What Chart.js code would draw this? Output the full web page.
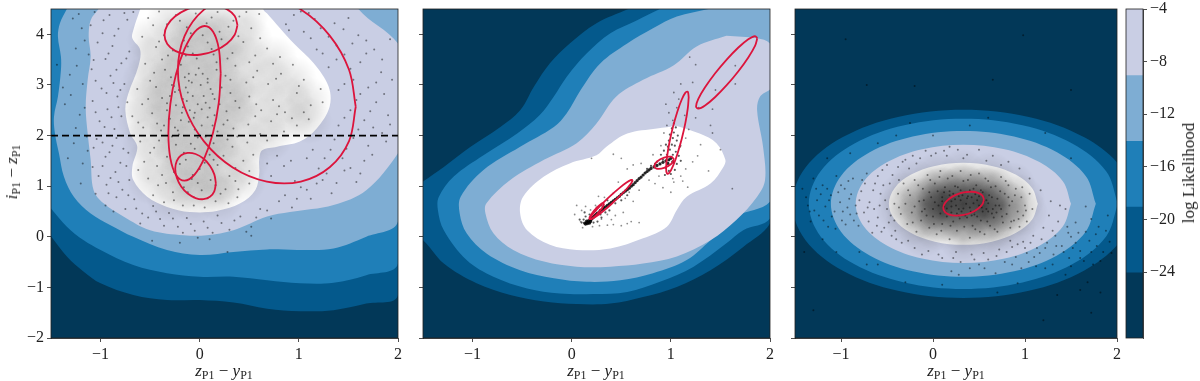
<!DOCTYPE html>
<html>
<head>
<meta charset="UTF-8">
<title>log Likelihood panels</title>
<script src="https://cdn.jsdelivr.net/npm/chart.js@4"></script>
<style>
    html, body { margin: 0; padding: 0; background: #fff; }
    body { width: 1200px; height: 381px; position: relative; overflow: hidden; font-family: "Liberation Serif", serif; color: #222; }
    canvas { position: absolute; top: 0; }
    .lab { position: absolute; font-size: 17px; white-space: nowrap; transform: translate(-50%, -50%); }
    .lab.rot { transform: translate(-50%, -50%) rotate(-90deg); }
    .lab sub { font-size: 12px; vertical-align: -3px; line-height: 0; }
</style>
</head>
<body>
<canvas id="c1" style="left:0" width="405" height="381"></canvas>
<canvas id="c2" style="left:403px" width="375" height="381"></canvas>
<canvas id="c3" style="left:775px" width="350" height="381"></canvas>
<canvas id="cbar" style="left:1120px" width="80" height="381"></canvas>
<div class="lab" style="left:224px;top:371px"><i>z</i><sub>P1</sub> − <i>y</i><sub>P1</sub></div>
<div class="lab" style="left:596px;top:371px"><i>z</i><sub>P1</sub> − <i>y</i><sub>P1</sub></div>
<div class="lab" style="left:956px;top:371px"><i>z</i><sub>P1</sub> − <i>y</i><sub>P1</sub></div>
<div class="lab rot" style="left:12px;top:172px"><i>i</i><sub>P1</sub> − <i>z</i><sub>P1</sub></div>
<div class="lab rot" style="left:1189px;top:173px">log Likelihood</div>

<script>
// axis ticks
const xTicks = [-1, 0, 1, 2];
const yTicks = [-2, -1, 0, 1, 2, 3, 4];
const barTicks = [-4, -8, -12, -16, -20, -24];
const barBands = [[-9, -4], [-14, -9], [-19, -14], [-24, -19], [-29, -24]];
const bandColors = ['#c9cee4', '#7eadd3', '#1f7fb8', '#04598c'];
const darkest = '#023858';

// filled contours, outermost first
const left1 = [
    [[-1.5,.01],[-1.34,-.39],[-1.17,-.69],[-1,-.92],[-.67,-1.15],[-.33,-1.25],[0,-1.25],[.34,-1.3],[.68,-1.42],[1.01,-1.47],[1.35,-1.45],[1.68,-1.32],[2,-1.15],[2.4,5],[-1.9,5]],
    [[-1.5,.56],[-1.34,.2],[-1.17,-.07],[-1,-.26],[-.67,-.56],[-.33,-.72],[0,-.79],[.34,-.79],[.68,-.86],[1.01,-.92],[1.35,-.91],[1.68,-.76],[2,-.53],[2.4,5],[-1.9,5]],
    [[-1.34,4.5],[-1.41,4.22],[-1.43,3.95],[-1.4,3.56],[-1.4,3.29],[-1.43,2.77],[-1.47,2.37],[-1.46,2.04],[-1.42,1.65],[-1.37,1.19],[-1.27,.79],[-1.1,.46],[-.9,.23],[-.67,0],[-.33,-.26],[0,-.36],[.34,-.3],[.68,-.25],[1.01,-.26],[1.35,-.23],[1.68,0],[2,.3],[2.4,5],[-1.34,5]],
    [[-1.02,4.5],[-1.1,4.28],[-1.12,3.95],[-1.1,3.56],[-1.13,3.1],[-1.15,2.57],[-1.13,2.04],[-1.1,1.52],[-1.07,.92],[-.97,.66],[-.77,.4],[-.5,.13],[-.16,.03],[.07,.03],[.34,.13],[.68,.4],[.91,.49],[1.35,.63],[1.68,.92],[2,1.65],[2.3,2.7],[2,3.82],[1.6,4.5],[1.5,5],[-1.02,5]],
];
const white1 = [[-.6,4.5],[-.67,4.08],[-.68,3.92],[-.6,3.69],[-.62,3.36],[-.72,2.83],[-.75,2.5],[-.7,2.04],[-.63,1.78],[-.68,1.38],[-.67,1.12],[-.53,.79],[-.33,.59],[-.1,.49],[.17,.51],[.41,.66],[.56,.92],[.6,1.25],[.6,1.52],[.63,1.71],[.78,1.78],[1.01,1.88],[1.18,2.14],[1.31,2.57],[1.3,2.97],[1.15,3.43],[.95,3.82],[.81,4.12],[.68,4.41],[.64,4.5],[.64,5],[-.6,5]];

const left2 = [
    [[.57,4.5],[.25,4.22],[-.02,3.82],[-.22,3.43],[-.38,2.97],[-.52,2.5],[-.72,2.17],[-1.02,1.78],[-1.29,1.38],[-1.5,1.09],[-1.9,.5],[-1.5,-.07],[-1.29,-.53],[-.96,-.92],[-.62,-1.15],[-.28,-1.28],[.05,-1.33],[.39,-1.32],[.72,-1.19],[1.06,-.99],[1.4,-.66],[1.73,-.2],[2,.26],[2.4,2],[2.4,5],[.57,5]],
    [[.89,4.5],[.66,4.28],[.39,4.02],[.15,3.62],[-.05,3.16],[-.18,2.77],[-.32,2.41],[-.55,2.04],[-.89,1.61],[-1.19,1.19],[-1.34,.79],[-1.35,.53],[-1.29,.13],[-1.06,-.46],[-.79,-.79],[-.45,-1.02],[-.12,-1.12],[.22,-1.13],[.56,-1.09],[.89,-.89],[1.23,-.59],[1.56,-.13],[1.73,.13],[2,.36],[2.4,2],[2.4,5],[.89,5]],
    [[1.38,4.5],[1.06,4.35],[.82,4.12],[.56,3.82],[.29,3.43],[.09,2.9],[-.05,2.44],[-.18,2.17],[-.52,1.78],[-.89,1.32],[-1.12,.79],[-1.13,.46],[-1.06,.07],[-.86,-.33],[-.52,-.66],[-.18,-.82],[.15,-.89],[.49,-.86],[.82,-.72],[1.16,-.46],[1.4,-.07],[1.66,.4],[2,.69],[2.4,2],[2.4,5],[1.38,5]],
    [[1.56,3.97],[1.26,3.76],[1.03,3.39],[.72,3.1],[.45,2.77],[.25,2.24],[.05,1.85],[-.28,1.52],[-.62,1.12],[-.86,.66],[-.87,.46],[-.79,.07],[-.59,-.26],[-.28,-.49],[.05,-.59],[.39,-.59],[.72,-.53],[1.06,-.39],[1.4,-.07],[1.66,.33],[1.87,.79],[1.95,1.12],[1.93,1.78],[1.87,2.5],[1.9,2.77],[2,2.91],[2.2,3.3],[2,3.82],[1.87,3.92]],
];
const white2 = [[1.06,2.19],[.86,2.14],[.56,2.04],[.35,1.78],[.25,1.61],[-.02,1.45],[-.28,1.19],[-.49,.79],[-.52,.46],[-.45,.13],[-.22,-.16],[.05,-.26],[.39,-.23],[.72,-.03],[.96,.2],[1.06,.53],[1.16,.79],[1.4,1.05],[1.53,1.38],[1.55,1.52],[1.46,1.85],[1.29,2.04]];

const left3 = [
    [[2.19,.65],[2.048,1.362],[1.645,1.965],[1.042,2.368],[.33,2.51],[-.382,2.368],[-.985,1.965],[-1.388,1.362],[-1.53,.65],[-1.388,-.062],[-.985,-.665],[-.382,-1.068],[.33,-1.21],[1.042,-1.068],[1.645,-.665],[2.048,-.062]],
    [[2.01,.65],[1.882,1.293],[1.518,1.838],[.973,2.202],[.33,2.33],[-.313,2.202],[-.858,1.838],[-1.222,1.293],[-1.35,.65],[-1.222,.007],[-.858,-.538],[-.313,-.902],[.33,-1.03],[.973,-.902],[1.518,-.538],[1.882,.007]],
    [[1.77,.65],[1.66,1.201],[1.348,1.668],[.881,1.98],[.33,2.09],[-.221,1.98],[-.688,1.668],[-1,1.201],[-1.11,.65],[-1,.099],[-.688,-.368],[-.221,-.68],[.33,-.79],[.881,-.68],[1.348,-.368],[1.66,.099]],
    [[1.5,.65],[1.411,1.098],[1.157,1.477],[.778,1.731],[.33,1.82],[-.118,1.731],[-.497,1.477],[-.751,1.098],[-.84,.65],[-.751,.202],[-.497,-.177],[-.118,-.431],[.33,-.52],[.778,-.431],[1.157,-.177],[1.411,.202]],
];
const white3 = [[1.14,.65],[1.078,.96],[.903,1.223],[.64,1.398],[.33,1.46],[.02,1.398],[-.243,1.223],[-.418,.96],[-.48,.65],[-.418,.34],[-.243,.077],[.02,-.098],[.33,-.16],[.64,-.098],[.903,.077],[1.078,.34]];

// red outlines
const red1 = [
    [[1.574,2.568],[1.506,3.3],[1.311,3.975],[1.02,4.49],[.677,4.77],[.333,4.769],[.043,4.487],[-.152,3.969],[-.22,3.292],[-.152,2.559],[.043,1.885],[.333,1.369],[.677,1.09],[1.02,1.091],[1.311,1.373],[1.506,1.891]],
    [[.212,3.229],[.192,3.723],[.135,4.051],[.049,4.164],[-.052,4.044],[-.153,3.71],[-.239,3.213],[-.296,2.627],[-.316,2.043],[-.296,1.549],[-.239,1.221],[-.153,1.108],[-.052,1.228],[.049,1.562],[.135,2.059],[.192,2.645]],
    [[.381,4.184],[.353,4.361],[.273,4.497],[.154,4.57],[.013,4.569],[-.128,4.494],[-.247,4.357],[-.327,4.179],[-.355,3.986],[-.327,3.809],[-.247,3.673],[-.128,3.6],[.013,3.601],[.154,3.676],[.273,3.813],[.353,3.991]],
    [[.163,1.055],[.147,1.233],[.103,1.405],[.037,1.546],[-.042,1.635],[-.121,1.658],[-.187,1.611],[-.231,1.501],[-.247,1.345],[-.231,1.167],[-.187,.995],[-.121,.854],[-.042,.765],[.037,.742],[.103,.789],[.147,.899]],
];
const red2 = [
    [[1.872,3.92],[1.849,3.966],[1.781,3.902],[1.681,3.739],[1.563,3.501],[1.445,3.225],[1.345,2.952],[1.277,2.724],[1.254,2.576],[1.277,2.53],[1.345,2.594],[1.445,2.757],[1.563,2.995],[1.681,3.271],[1.781,3.544],[1.849,3.772]],
    [[1.18,2.756],[1.171,2.864],[1.147,2.848],[1.11,2.712],[1.066,2.476],[1.022,2.176],[.985,1.858],[.961,1.57],[.952,1.356],[.961,1.248],[.985,1.264],[1.022,1.4],[1.066,1.636],[1.11,1.936],[1.147,2.254],[1.171,2.542]],
    [[1.032,1.529],[1.003,1.582],[.932,1.565],[.861,1.488],[.832,1.397],[.861,1.344],[.932,1.361],[1.003,1.438]],
    [[.616,1.12],[.6,1.125],[.553,1.072],[.483,.967],[.401,.828],[.319,.675],[.249,.532],[.202,.419],[.186,.356],[.202,.351],[.249,.404],[.319,.509],[.401,.648],[.483,.801],[.553,.944],[.6,1.057]],
    [[.328,.658],[.306,.664],[.253,.574],[.2,.45],[.178,.358],[.2,.352],[.253,.442],[.306,.566]],
];
const red3 = [
    [[.554,.735],[.537,.814],[.489,.868],[.418,.889],[.333,.875],[.248,.827],[.177,.752],[.129,.662],[.112,.571],[.129,.492],[.177,.438],[.248,.417],[.333,.431],[.418,.479],[.489,.554],[.537,.644]],
];
const cutLine = [[-1.5, 2], [2, 2]];

// tone of the densest areas (each entry stands for a crowd of points)
const haze1 = [[-.3,4.3],[-.05,4.3],[.2,4.3],[.45,4.3],[-.5,3.9],[-.25,3.9],[0,3.9],[.25,3.9],[.5,3.9],[-.5,3.5],[-.25,3.5],[0,3.5],[.25,3.5],[.5,3.5],[.75,3.5],[-.55,3.1],[-.3,3.1],[-.05,3.1],[.2,3.1],[.45,3.1],[.7,3.1],[.95,3.1],[-.6,2.7],[-.35,2.7],[-.1,2.7],[.15,2.7],[.4,2.7],[.65,2.7],[.9,2.7],[1.1,2.7],[-.6,2.3],[-.35,2.3],[-.1,2.3],[.15,2.3],[.4,2.3],[.65,2.3],[.9,2.3],[1.1,2.3],[-.55,1.9],[-.3,1.9],[-.05,1.9],[.2,1.9],[.45,1.9],[.7,1.95],[-.5,1.5],[-.25,1.5],[0,1.5],[.25,1.5],[.47,1.5],[-.5,1.1],[-.25,1.1],[0,1.1],[.25,1.1],[.43,1.1],[-.3,.75],[-.05,.72],[.2,.75]];
const hazeCore1 = [[-.1,4.1],[.15,4.1],[-.2,3.7],[.05,3.7],[.3,3.7],[-.3,3.3],[-.05,3.3],[.2,3.3],[-.4,2.9],[-.15,2.9],[.1,2.9],[.35,2.9],[-.4,2.5],[-.15,2.5],[.1,2.5],[.35,2.5],[-.3,2.1],[-.05,2.1],[.2,2.1],[-.25,1.7],[0,1.7],[.2,1.7],[-.2,1.3],[.05,1.3],[-.1,.95],[.15,.95]];
const hazeCore3 = [[.33,.65],[.1,.62],[.55,.62],[.33,.9],[.33,.4],[.1,.85],[.56,.85],[.1,.42],[.56,.42],[-.08,.65],[.75,.62]];
const haze3 = [[.33,1.25],[.05,1.2],[.62,1.2],[-.2,1.05],[.33,1],[.85,1],[-.32,.8],[.05,.95],[.62,.95],[.95,.75],[-.35,.55],[-.12,.45],[.8,.4],[.98,.5],[-.25,.3],[.05,.2],[.33,.15],[.62,.2],[.85,.2],[-.1,.08],[.33,-.05],[.62,0]];

// scatter dots
const dots1 = [
[-1.28,4.31],[-1.19,4.12],[-1.06,4.44],[-.98,4.02],[-.91,4.38],[-.82,4.11],[-.73,4.29],[-1.25,3.72],[-1.12,3.6],[-1.03,3.84],[-.95,3.51],[-.88,3.77],[-.79,3.43],[-.71,3.66],[-1.31,3.2],[-1.18,3.02],[-1.09,3.31],[-.99,2.93],[-.9,3.18],[-.83,2.77],[-.76,3.02],[-1.36,2.62],[-1.21,2.41],[-1.08,2.68],[-1.01,2.28],[-.93,2.52],[-.86,2.13],[-.79,2.38],[-1.27,1.85],[-1.13,1.7],[-1.04,1.93],[-.95,1.58],[-.88,1.8],[-.8,1.46],[-.72,1.66],[-1.02,1.2],[-.94,1.03],[-.85,1.28],[-.78,.93],[-.71,1.12],[-.95,.62],[-.84,.78],[-.75,.55],[-.66,.74],[-.58,.46],[-.47,.61],[-.4,.35],[-.31,.47],[-.22,.2],[-.13,.37],[-.05,.12],[.04,.3],[.13,.08],[.22,.27],[.3,.14],[.41,.4],[.52,.2],[.61,.55],[.72,.36],[.8,.7],[.93,.58],[1.02,.98],[1.12,.75],[1.24,1.12],[1.33,.86],[1.46,1.31],[1.58,1.08],[1.66,1.5],[.72,1.2],[.85,1.4],[.96,1.1],[1.08,1.55],[1.2,1.35],[1.32,1.72],[1.44,1.55],[1.55,1.95],[1.7,1.8],[1.84,2.05],[1.4,2.2],[1.52,2.5],[1.66,2.3],[1.78,2.66],[1.9,2.4],[1.4,2.9],[1.55,3.1],[1.7,2.95],[1.83,3.25],[1.3,3.35],[1.46,3.6],[1.62,3.45],[1.76,3.7],[1.92,3.9],[1.18,3.7],[1.3,3.95],[1.45,4.1],[1.6,3.98],[1.05,4.05],[1.16,4.3],[.95,4.38],[.87,4.2],[-.48,-.08],[-.2,-.12],[.1,-.05],[.28,-.3],[.52,.02],[1.02,4.45],[-1.38,2.95],[-1.44,3.4],[-1.33,1.55],[-1.2,1.05],[-.6,.26],[-.02,-.02],
[-1.22,4.4],[-1.1,4.18],[-.97,4.28],[-.86,3.97],[-.76,4.42],[-.67,4.44],[-1.16,3.88],[-1.07,3.49],[-.92,3.62],[-.84,3.3],[-.74,3.52],[-1.24,3.38],[-1.05,3.08],[-.94,2.84],[-.87,3.04],[-.8,2.9],[-.73,2.66],[-1.3,2.8],[-1.16,2.55],[-1.05,2.46],[-.96,2.17],[-.89,2.36],[-.82,2.56],[-1.25,2.15],[-1.14,1.98],[-1.07,1.76],[-.98,1.86],[-.91,1.67],[-.84,1.95],[-.77,1.74],[-1.18,1.45],[-1.08,1.38],[-.98,1.4],[-.9,1.16],[-.82,1.08],[-.74,1.4],[-1.05,.85],[-.92,.86],[-.87,.5],[-.72,.82],[-.64,.56],[-.52,.38],[-.44,.5],[-.36,.22],[-.27,.36],[-.17,.08],[-.09,.25],[.08,.18],[.18,.42],[.35,.32],[.47,.1],[.57,.38],[.68,.52],[.86,.82],[.98,.75],[1.08,.93],[1.18,1.05],[1.28,1.25],[1.38,1.06],[1.52,1.36],[1.62,1.25],[1.74,1.62],[1.88,1.88],[.68,1.45],[.78,1.6],[.92,1.5],[1.14,1.72],[1.26,1.55],[1.36,1.92],[1.48,1.74],[1.6,2.12],[1.75,2.16],[1.92,2.22],[1.46,2.35],[1.58,2.7],[1.72,2.48],[1.86,2.82],[1.46,3.02],[1.62,2.82],[1.78,3.05],[1.94,3.1],[1.38,3.5],[1.52,3.32],[1.68,3.62],[1.84,3.5],[1.24,3.62],[1.38,3.78],[1.54,3.82],[1.68,3.88],[1.12,3.92],[1.22,4.12],[1.36,4.22],[1.5,4.32],[1.1,4.42],[.9,4.08],
[-.52,4.32],[-.41,4.45],[-.33,4.2],[-.24,4.38],[-.13,4.14],[-.04,4.41],[.07,4.22],[.18,4.44],[.29,4.15],[.4,4.35],[.52,4.12],[.6,4.4],[-.58,3.95],[-.44,3.75],[-.36,3.98],[-.27,3.68],[-.16,3.88],[-.07,3.62],[.03,3.98],[.12,3.71],[.22,3.9],[.33,3.63],[.44,3.85],[.56,3.58],[.68,3.72],[.81,3.55],[-.55,3.42],[-.46,3.24],[-.38,3.5],[-.29,3.15],[-.19,3.4],[-.11,3.08],[-.01,3.33],[.08,3.05],[.17,3.45],[.26,3.18],[.36,3.38],[.47,3.05],[.58,3.28],[.69,3.02],[.82,3.22],[.94,3.4],[1.05,3.1],[-.63,2.92],[-.52,2.72],[-.44,2.96],[-.33,2.64],[-.25,2.86],[-.17,2.56],[-.07,2.78],[.02,2.52],[.11,2.92],[.2,2.62],[.31,2.84],[.4,2.55],[.5,2.77],[.62,2.5],[.74,2.7],[.86,2.46],[.98,2.84],[1.12,2.6],[1.22,2.92],[-.68,2.38],[-.57,2.16],[-.48,2.44],[-.39,2.1],[-.3,2.33],[-.21,2.02],[-.11,2.27],[-.02,1.96],[.08,2.36],[.18,2.08],[.28,2.3],[.38,1.98],[.49,2.22],[.61,2.03],[.72,2.28],[.85,2.08],[.98,2.2],[1.1,2.32],[-.6,1.88],[-.5,1.66],[-.41,1.9],[-.33,1.58],[-.24,1.82],[-.14,1.52],[-.05,1.74],[.05,1.46],[.14,1.85],[.24,1.6],[.33,1.78],[.44,1.5],[.54,1.62],[-.62,1.32],[-.52,1.15],[-.43,1.4],[-.34,1.06],[-.26,1.28],[-.16,.98],[-.07,1.22],[.02,.92],[.11,1.12],[.21,.85],[.3,1.2],[.39,.94],[.5,1.05],[-.47,.82],[-.36,.68],[-.27,.88],[-.17,.62],[-.06,.78],[.05,.58],[.16,.7],[.29,.66],[.38,.78],
[-.12,2.85],[-.17,2.72],[-.14,2.95],[-.08,3.05],[-.02,2.62],[.04,2.78],[-.21,2.9],[-.1,2.5],[.08,3.12],[-.28,3.0],[-.04,3.2],[.15,2.4],[.02,2.2],[-.19,2.3],[-.33,2.5],[.1,2.55],[.22,2.95],[-.24,2.6],[-.06,2.35],[.17,3.3],
[-.47,4.18],[-.2,4.27],[.12,4.33],[.34,4.27],[.47,4.44],[-.09,4.02],[.2,4.05],[-.41,3.86],[-.12,3.76],[.08,3.84],[.39,3.96],[.61,3.92],[-.32,3.58],[-.03,3.52],[.28,3.52],[.5,3.45],[.74,3.42],[-.5,3.08],[-.23,3.22],[.03,3.22],[.31,3.1],[.54,3.15],[.77,3.12],[1.0,2.98],[-.58,2.62],[-.38,2.74],[-.13,2.68],[.15,2.72],[.36,2.68],[.57,2.62],[.8,2.58],[1.05,2.46],[1.24,2.66],[-.62,2.26],[-.43,2.24],[-.25,2.16],[-.05,2.12],[.13,2.2],[.34,2.14],[.56,2.38],[.78,2.42],[.93,2.34],[-.46,1.76],[-.28,1.98],[-.09,1.84],[.1,1.62],[.28,1.92],[.48,1.86],[.68,1.9],[-.56,1.48],[-.38,1.22],[-.2,1.44],[0,1.34],[.18,1.42],[.36,1.36],[.5,1.3],[-.42,1.02],[-.22,1.14],[-.02,1.06],[.16,1.02],[.36,1.1],[-.12,.88],[.08,.76],[.26,.94],[-.26,.72],[-.06,.62],
[-.15,3.15],[-.26,2.98],[.01,3.0],[-.05,2.45],[.06,2.65],[-.18,2.45],[-.3,2.78],[-.11,3.22],[.13,2.82],[.27,2.48],[-.22,2.1],[.06,1.98],[-.35,3.3],[-.14,3.58],[.14,3.6],[-.36,2.2],[.24,2.22],[-.16,1.66],[.14,1.52],[-.08,1.14],
];
const dots2 = [
[.03,.44],[.1,.52],[.14,.6],[.19,.53],[.05,.62],[.24,.62],[.09,.3],[.11,.18],[.21,.2],[.28,.22],[.36,.23],[.42,.24],[.5,.22],[.56,.26],[.4,.34],[.36,.44],[.44,.42],[.52,.48],[.6,.3],[.68,.28],[.3,.35],[.25,.58],[.33,.78],[.27,.8],[.42,.86],[.54,.76],[.62,.7],[.58,.88],[.47,1.08],[.68,.92],[.56,1.34],[.62,1.42],[.5,1.55],[.42,1.63],[.2,1.55],[.78,1.12],[.84,1.05],[.92,.97],[1,.88],[.88,1.2],[1.03,1.08],[1.1,1.2],[1.15,1.34],[1.22,1.48],[1.27,1.6],[1.3,1.82],[1.42,2.05],[1.5,1.72],[1.38,1.3],[1.62,.95],[1.17,.98],[1.1,1.8],[1.15,1.95],[1.18,2.12],[1.02,2.3],[.98,2.45],[1.06,2.55],[1.14,2.4],[.95,2.62],[1.03,2.85],[1.1,3.02],[1.22,3.05],[1.25,3.4],[1.19,3.55],[1.28,2.55],[1.42,2.52],[1.45,2.9],[1.65,3.38],[1.65,3.02],[1.4,2.2],[1.25,2.35],[1.08,2.72],[.9,1.8],[.82,1.62],[.7,1.45],[.93,2.05],[.96,2.2],[1.12,1.1],[1.02,1.15],
];
const plume2 = [[.9,1.62],[.93,1.7],[.96,1.62],[.99,1.72],[1.02,1.62],[1.05,1.68],[1.08,1.6],[.97,1.78],[1.01,1.82],[1.04,1.8],[.98,1.9],[1.02,1.95],[1.06,1.9],[.99,2.02],[1.03,2.06],[1.07,2.0],[1.01,2.14],[1.05,2.16],[1.03,2.24],[.95,1.82],[1.09,1.78],[.92,1.52],[.86,1.48],[.84,1.44],[.8,1.4],[.76,1.34],[1.06,1.44],[1.1,1.5],[1.04,1.32],[.98,1.3],[.95,1.36],[1.0,1.24],[.94,1.22],[.14,.4],[.12,.34],[.1,.28],[.08,.34],[.22,.28],[.26,.3],[.3,.38],[.18,.44],[.24,.52],[.13,.48],[.29,.44],[.34,.48],[.38,.52],[.3,.62],[.36,.72],[.44,.66],[.5,.72],[.56,.82]];
const trail2 = [[.13,.27],[.14,.25],[.15,.28],[.15,.31],[.16,.26],[.17,.29],[.17,.32],[.18,.27],[.19,.3],[.19,.33],[.2,.35],[.21,.37],[.22,.39],[.23,.41],[.24,.43],[.25,.45],[.26,.47],[.28,.49],[.29,.52],[.31,.54],[.32,.57],[.34,.59],[.36,.62],[.38,.65],[.4,.68],[.42,.71],[.44,.74],[.46,.77],[.48,.8],[.5,.84],[.52,.87],[.54,.9],[.56,.93],[.58,.96],[.6,1],[.62,1.03],[.64,1.07],[.66,1.11],[.68,1.15],[.7,1.18],[.72,1.22],[.74,1.26],[.76,1.29],[.78,1.32],[.8,1.35],[.83,1.38],[.86,1.41],[.89,1.44],[.92,1.47],[.95,1.5],[.98,1.52],[1,1.55],[1.02,1.48],[.97,1.45]];
const dots3 = [
[-1.42,.95],[-1.36,.62],[-1.33,.3],[-1.3,1.15],[-1.26,.72],[-1.24,.42],[-1.2,1.02],[-1.17,.6],[-1.14,.2],[-1.11,.82],[-1.07,.5],[-1.05,1.2],[-1.01,.68],[-.99,.32],[-.96,.95],[-.93,.58],[-.91,.75],[-.9,.44],[-.87,1.15],[-.84,.62],[-.81,.22],[-.78,.9],[-.75,.48],[-.72,1.25],[-.69,.68],[-.66,.08],[-.63,1.05],[-.6,.38],[-.57,.85],[-.55,1.32],[-.53,.18],[-.5,.55],[-.47,1.05],[-.45,.02],[-.42,.32],[-.38,1.38],[-.34,-.12],[-.3,1.52],[-.22,1.6],[-.12,-.35],[-.08,1.7],[.03,1.65],[.1,-.42],[.18,1.78],[.3,-.5],[.33,1.55],[.42,-.35],[.5,1.72],[.6,-.45],[.65,1.6],[.72,-.25],[.78,-.5],[.82,1.48],[.86,-.2],[.9,-.4],[.94,1.35],[.98,-.1],[1.02,-.32],[1.05,1.15],[1.09,.02],[1.13,-.22],[1.17,.92],[1.2,.18],[1.24,-.12],[1.28,.7],[1.31,-.35],[1.36,.3],[1.4,-.18],[1.44,.55],[1.48,-.42],[1.5,.0],[1.55,.28],[1.6,-.28],[1.66,.6],[1.7,-.08],[1.74,-.55],[1.8,.2],[1.85,-.3],[1.9,.42],[.4,-.62],[.2,-.68],[.68,-.72],[.96,-.62],[1.22,-.62],[1.44,-.75],[1.6,-1.05],[1.82,-1.1],[1.72,-1.5],[1.35,-1.15],[1.68,-.9],[.7,-1.1],[.1,-.95],[.92,-.92],[1.2,-1.65],[-1.3,-1.45],[-.3,-.9],[-.6,-.55],[-.8,-.3],[-1.05,-.3],[-1.2,-.05],[-.72,-.55],[-.9,1.65],[-.6,1.85],[-.4,2.0],[.0,2.0],[.4,2.2],[.6,2.35],[-.25,2.25],[-.95,3.9],[.98,3.98],[1.5,2.9],[-.72,3.0],[.65,3.1],[-.2,2.98],[1.22,2.05],[1.5,1.55],[-1.4,-.3],[-1.15,1.55],
[-1.38,.78],[-1.29,.52],[-1.22,.84],[-1.15,.95],[-1.1,.4],[-1.03,.88],[-.98,.5],[-.92,1.1],[-.86,.32],[-.8,.72],[-.74,1.05],[-.7,.3],[-.64,.55],[-.6,1.2],[-.56,.1],[-.52,.72],[-.48,.28],[-.44,1.22],[-.4,-.05],[-.26,1.35],[-.2,-.22],[-.05,-.28],[.15,1.6],[.25,-.3],[.5,-.55],[.58,1.5],[.74,1.42],[.84,-.08],[1.0,-.22],[1.1,-.4],[1.18,-.05],[1.26,.42],[1.33,.02],[1.38,.62],[1.46,.2],[1.52,-.22],[1.58,.08],[1.64,-.48],[1.72,.35],[1.78,-.18],[1.92,-.1],
[-1.34,.5],[-1.27,.95],[-1.19,.32],[-1.13,.72],[-1.06,.16],[-1.0,1.02],[-.95,.24],[-.89,.84],[-.83,.46],[-.77,1.12],[-.71,.58],[-.65,.92],[-.61,.22],[-.58,.62],[-.54,1.02],[-.5,1.42],[-.46,.42],[-.41,.12],[-.37,1.12],[-.33,1.48],[-.27,-.08],[-.18,1.45],[-.14,1.55],[-.02,1.6],[.06,-.35],[.12,1.7],[.22,-.42],[.27,1.72],[.37,1.62],[.45,-.45],[.55,-.32],[.69,-.38],[.8,-.3],[.92,-.15],[1.06,-.12],[1.16,-.32],[1.22,-.22],[1.3,.12],[1.34,-.18],[1.42,-.3],[1.47,.08],[1.55,-.12],[1.6,-.42],[1.66,.1],[1.72,-.3],[1.77,.05],[1.82,-.48],[1.88,.12],[1.94,-.32],[.86,-.55],[1.04,-.5],[1.12,-.58],[1.3,-.55],[1.5,-.58],[.56,-.62],[.28,-.75],
[-.42,.65],[-.38,.85],[-.35,.45],[-.32,1.05],[-.3,.65],[-.28,.25],[-.25,.82],[-.23,.48],[-.2,1.12],[-.18,.1],[-.15,.7],[-.13,.32],[-.11,.95],[-.09,.55],[-.06,1.22],[-.04,.18],[-.02,.78],[0,.4],[.02,1.05],[.04,.05],[.06,.62],[.08,1.3],[.1,.25],[.12,.88],[.14,.48],[.16,1.15],[.18,-.05],[.2,.7],[.22,.3],[.24,1.0],[.26,.12],[.28,.55],[.3,1.3],[.32,.82],[.34,.2],[.36,.65],[.38,1.12],[.4,-.02],[.42,.42],[.44,.95],[.46,.15],[.48,.72],[.5,1.25],[.52,.32],[.54,.88],[.56,.05],[.58,.55],[.6,1.1],[.62,.22],[.64,.78],[.66,.38],[.68,1.0],[.7,.1],[.72,.62],[.74,1.18],[.76,.28],[.78,.85],[.8,.45],[.82,1.02],[.84,.18],[.86,.7],[.88,.32],[.9,.95],[.92,.5],[.94,.2],[.96,.78],[.98,.42],[1.0,.62],[1.02,.3],[1.05,.85],[1.08,.55],[-.2,.6],[-.1,.72],[0,.55],[.1,.78],[.2,.48],[.3,.72],[.4,.58],[.5,.8],[.6,.5],[.7,.75],[.05,.9],[.15,.4],[.25,.62],[.35,.88],[.45,.5],[.55,.7],[.65,.55],[.22,.85],[.12,.6],[.42,.78],
[-.37,.58],[-.27,.92],[-.22,.28],[-.16,1.02],[-.07,.42],[-.03,1.12],[.01,.25],[.07,1.18],[.09,.12],[.13,.98],[.19,.22],[.21,1.2],[.27,.98],[.29,.36],[.33,1.1],[.37,.38],[.41,1.22],[.43,.22],[.47,1.02],[.51,.1],[.53,.58],[.57,1.15],[.59,.3],[.63,.98],[.67,.15],[.69,.48],[.73,.9],[.75,.4],[.79,1.1],[.83,.62],[.85,.3],[.89,.82],[.93,.35],[.97,.98],[1.01,.52],[.16,.72],[.28,.42],[.38,.8],[.48,.4],[.58,.72],[.68,.62],[.08,.46],[.18,.9],[.31,.5],[.44,.66],[.61,.82],[.02,.68],[-.12,.5],[.74,.55],[.82,.78],[-.04,.88],
[.2,.6],[.24,.74],[.28,.8],[.33,.56],[.37,.76],[.41,.5],[.46,.84],[.5,.62],[.54,.5],[.15,.56],[.26,.46],[.35,.42],[.45,.44],[.3,.92],[.4,.92],[.18,.82],[.52,.92],[.6,.66],[.1,.7],[.64,.46],
];

// soft round stamp for the hazy areas
function softDot(size, alpha) {
    const c = document.createElement('canvas');
    c.width = c.height = size;
    const g = c.getContext('2d');
    const grad = g.createRadialGradient(size / 2, size / 2, 0, size / 2, size / 2, size / 2);
    grad.addColorStop(0, 'rgba(0,0,0,' + alpha + ')');
    grad.addColorStop(1, 'rgba(0,0,0,0)');
    g.fillStyle = grad;
    g.fillRect(0, 0, size, size);
    return c;
}

// frame and plot background
const framePlugin = {
    id: 'frame',
    beforeDatasetsDraw(chart) {
        const a = chart.chartArea, ctx = chart.ctx;
        if (chart.config.type === 'bar') return;
        ctx.save();
        ctx.fillStyle = darkest;
        ctx.fillRect(a.left, a.top, a.width, a.height);
        ctx.restore();
    },
    afterDraw(chart) {
        const a = chart.chartArea, ctx = chart.ctx;
        ctx.save();
        ctx.strokeStyle = '#222';
        ctx.lineWidth = 0.8;
        ctx.strokeRect(a.left, a.top, a.width, a.height);
        ctx.restore();
    }
};

const tickFont = { family: '"Liberation Serif", serif', size: 16 };
const minus = v => String(v).replace('-', '\u2212');

function closed(pts) { return pts.concat([pts[0]]); }

function axisOf(ticks, min, max, size, isY, labels) {
    return {
        type: 'linear', min: min, max: max,
        afterBuildTicks(s) { s.ticks = ticks.map(v => ({ value: v })); },
        afterFit(s) {
            if (isY) s.width = size; else s.height = size;
            // the edge labels must not push the plot area in
            s.paddingTop = s.paddingBottom = s.paddingLeft = s.paddingRight = 0;
        },
        border: { color: '#222', width: 0.8 },
        grid: { drawOnChartArea: false, tickLength: 4, tickColor: '#222', tickWidth: 0.8 },
        ticks: {
            color: '#222', font: tickFont, padding: 3, maxRotation: 0, autoSkip: false,
            callback: v => labels ? minus(v) : ''
        }
    };
}

function drawPanel(id, contours, white, reds, layers, yWidth, rightPad, yLabels) {
    const sets = [];
    contours.forEach((pts, i) => sets.push({
        data: closed(pts), showLine: true, fill: 'shape', backgroundColor: bandColors[3 - i],
        borderWidth: 0, pointRadius: 0, tension: 0.35
    }));
    sets.push({ data: closed(white), showLine: true, fill: 'shape', backgroundColor: '#ffffff', borderWidth: 0, pointRadius: 0, tension: 0.35 });
    layers.forEach(l => sets.push({
        data: l.data, pointRadius: l.r, pointBorderWidth: 0, pointBackgroundColor: l.color, pointBorderColor: 'rgba(0,0,0,0)',
        pointStyle: l.stamp || 'circle', showLine: false
    }));
    reds.forEach(pts => sets.push({
        data: closed(pts), showLine: true, fill: false, borderColor: '#dc143c', borderWidth: 1.8, pointRadius: 0, tension: 0.35
    }));
    if (id === 'c1') sets.push({
        data: cutLine, showLine: true, fill: false, borderColor: '#000', borderWidth: 1.8, borderDash: [7, 4], pointRadius: 0
    });
    sets.forEach((s, i) => { s.order = sets.length - i; });

    new Chart(document.getElementById(id), {
        type: 'scatter',
        data: { datasets: sets },
        plugins: [framePlugin],
        options: {
            responsive: false, animation: false, events: [],
            layout: { padding: { top: 9, right: rightPad, bottom: 0, left: 0 } },
            plugins: { legend: { display: false }, tooltip: { enabled: false } },
            scales: {
                x: axisOf(xTicks, -1.5, 2, 43, false, true),
                y: axisOf(yTicks, -2, 4.5, yWidth, true, yLabels)
            }
        }
    });
}

const dotColor = 'rgba(0,0,0,0.45)';

// stamps ignore the radius when drawn; keep it small so the layout does not reserve room for them
drawPanel('c1', left1, white1, red1, [
    { data: haze1, r: 1, stamp: softDot(48, 0.11) },
    { data: hazeCore1, r: 1, stamp: softDot(44, 0.11) },
    { data: dots1, r: 1, color: dotColor }
], 51, 7, true);

drawPanel('c2', left2, white2, red2, [
    { data: dots2, r: 0.9, color: dotColor },
    { data: plume2, r: 1.1, color: 'rgba(0,0,0,0.65)' },
    { data: trail2, r: 1.6, color: 'rgba(0,0,0,0.85)' }
], 20, 8, false);

drawPanel('c3', left3, white3, red3, [
    { data: haze3, r: 1, stamp: softDot(50, 0.14) },
    { data: hazeCore3, r: 1, stamp: softDot(54, 0.38) },
    { data: dots3, r: 1, color: dotColor }
], 20, 8, false);

// colour bar
new Chart(document.getElementById('cbar'), {
    type: 'bar',
    data: {
        labels: [''],
        datasets: barBands.map((b, i) => ({
            data: [b],
            backgroundColor: (bandColors.concat([darkest]))[i],
            borderWidth: 0, barPercentage: 1, categoryPercentage: 1
        }))
    },
    plugins: [framePlugin],
    options: {
        responsive: false, animation: false, events: [],
        layout: { padding: { top: 9, right: 0, bottom: 43, left: 6 } },
        plugins: { legend: { display: false }, tooltip: { enabled: false } },
        scales: {
            x: { display: false, stacked: true },
            y: Object.assign(axisOf(barTicks, -29, -4, 57, true, true), { position: 'right' })
        }
    }
});
</script>
</body>
</html>
